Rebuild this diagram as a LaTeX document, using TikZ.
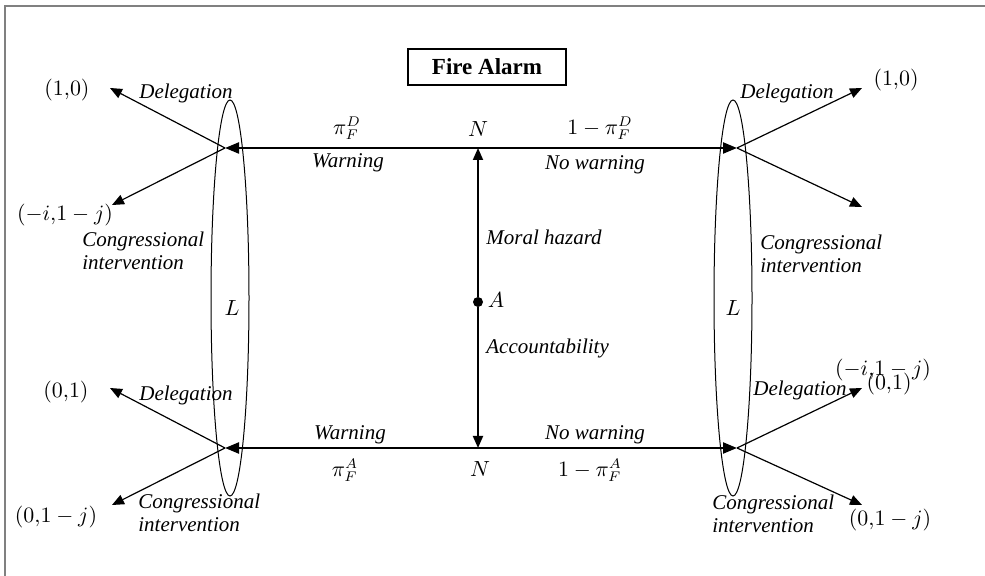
\documentclass[tikz,border=0pt]{standalone}
\usepackage{fontspec}
\setmainfont{Liberation Serif}
\usetikzlibrary{positioning, arrows.meta, shapes.geometric}

\begin{document}
\begin{tikzpicture}[
      x=0.5pt, y=-0.5pt,
      font=\fontsize{10.5}{11.5}\selectfont,
      lbl/.style={font=\fontsize{10.5}{11.5}\selectfont\itshape, inner sep=1pt},
      pay/.style={inner sep=1pt},
      multi/.style={lbl, align=left, anchor=west},
      player/.style={draw, ellipse, inner sep=0pt, minimum width=19pt, minimum height=198pt, line width=0.5pt},
      arrow/.style={-{Triangle[length=6pt,width=5pt]}, line width=0.6pt},
      mainarrow/.style={-{Triangle[length=7pt,width=5.5pt]}, line width=1.1pt}
    ]
    \useasboundingbox (0,0) rectangle (985,576);
    % frame
    \draw [gray, line width=1pt] (5,576) -- (5,6) -- (985,6);

    % title
    \node [draw, line width=0.6pt, minimum width=79pt, minimum height=18pt,
      font=\fontsize{11.5}{13}\selectfont\bfseries] (title) at (487,67) {Fire Alarm};

    % nature and agent
    \coordinate (ntop) at (478,148);
    \coordinate (nbot) at (478,448);
    \node [circle, fill, inner sep=0pt, minimum size=5pt] (agent) at (478,302) {};
    \node [pay] (ntoplbl) at (478,129) {$N$};
    \node [pay] (nbotlbl) at (480,469) {$N$};
    \node [pay] (alabel) at (496,300) {$A$};
    \node [lbl, anchor=west] (moral) at (484,237) {Moral hazard};
    \node [lbl, anchor=west] (account) at (484,348) {Accountability};

    % legislator nodes
    \coordinate (tl) at (225,148);
    \coordinate (tr) at (737,148);
    \coordinate (bl) at (225,448);
    \coordinate (br) at (737,448);
    \node [player] (leftL) at (230,298) {};
    \node [player] (rightL) at (733,298) {};
    \node [pay] (leftLlbl) at (232,308) {$L$};
    \node [pay] (rightLlbl) at (733,308) {$L$};

    % branch labels
    \node [pay] (piD) at (347,128) {$\pi_F^D$};
    \node [pay] (onepiD) at (600,128) {$1-\pi_F^D$};
    \node [lbl] (warnT) at (348,163) {Warning};
    \node [lbl] (nowarnT) at (595,165) {No warning};
    \node [lbl] (warnB) at (350,435) {Warning};
    \node [lbl] (nowarnB) at (595,435) {No warning};
    \node [pay] (piA) at (345,470) {$\pi_F^A$};
    \node [pay] (onepiA) at (590,470) {$1-\pi_F^A$};

    % end points
    \coordinate (tlup) at (110,88);
    \coordinate (tldown) at (112,205);
    \coordinate (trup) at (862,88);
    \coordinate (trdown) at (862,207);
    \coordinate (blup) at (110,388);
    \coordinate (bldown) at (112,505);
    \coordinate (brup) at (862,388);
    \coordinate (brdown) at (862,505);

    % payoffs and choices
    \node [pay] (payTLa) at (67,90) {$(1{,}0)$};
    \node [pay] (payTLb) at (65,215) {$(-i{,}1-j)$};
    \node [lbl] (delTL) at (186,93) {Delegation};
    \node [multi] (ciTL) at (80,251) {Congressional\\intervention};

    \node [pay] (payTRa) at (896,80) {$(1{,}0)$};
    \node [lbl] (delTR) at (787,93) {Delegation};
    \node [multi] (ciTR) at (758,254) {Congressional\\intervention};

    \node [pay] (payBLa) at (66,392) {$(0{,}1)$};
    \node [pay] (payBLb) at (56,517) {$(0{,}1-j)$};
    \node [lbl] (delBL) at (186,395) {Delegation};
    \node [multi] (ciBL) at (136,513) {Congressional\\intervention};

    \node [pay] (payBRx) at (883,370) {$(-i{,}1-j)$};
    \node [pay] (payBRa) at (889,384) {$(0{,}1)$};
    \node [pay] (payBRb) at (890,520) {$(0{,}1-j)$};
    \node [lbl] (delBR) at (800,390) {Delegation};
    \node [multi] (ciBR) at (710,514) {Congressional\\intervention};

    % nature's moves
    \draw [mainarrow] (ntop) -- (tl);
    \draw [mainarrow] (ntop) -- (tr);
    \draw [mainarrow] (nbot) -- (bl);
    \draw [mainarrow] (nbot) -- (br);
    \draw [arrow, line width=0.9pt] (agent) -- (ntop);
    \draw [arrow, line width=0.9pt] (agent) -- (nbot);

    % legislator's moves
    \draw [arrow] (tl) -- (tlup);
    \draw [arrow] (tl) -- (tldown);
    \draw [arrow] (tr) -- (trup);
    \draw [arrow] (tr) -- (trdown);
    \draw [arrow] (bl) -- (blup);
    \draw [arrow] (bl) -- (bldown);
    \draw [arrow] (br) -- (brup);
    \draw [arrow] (br) -- (brdown);
  \end{tikzpicture}
\end{document}
